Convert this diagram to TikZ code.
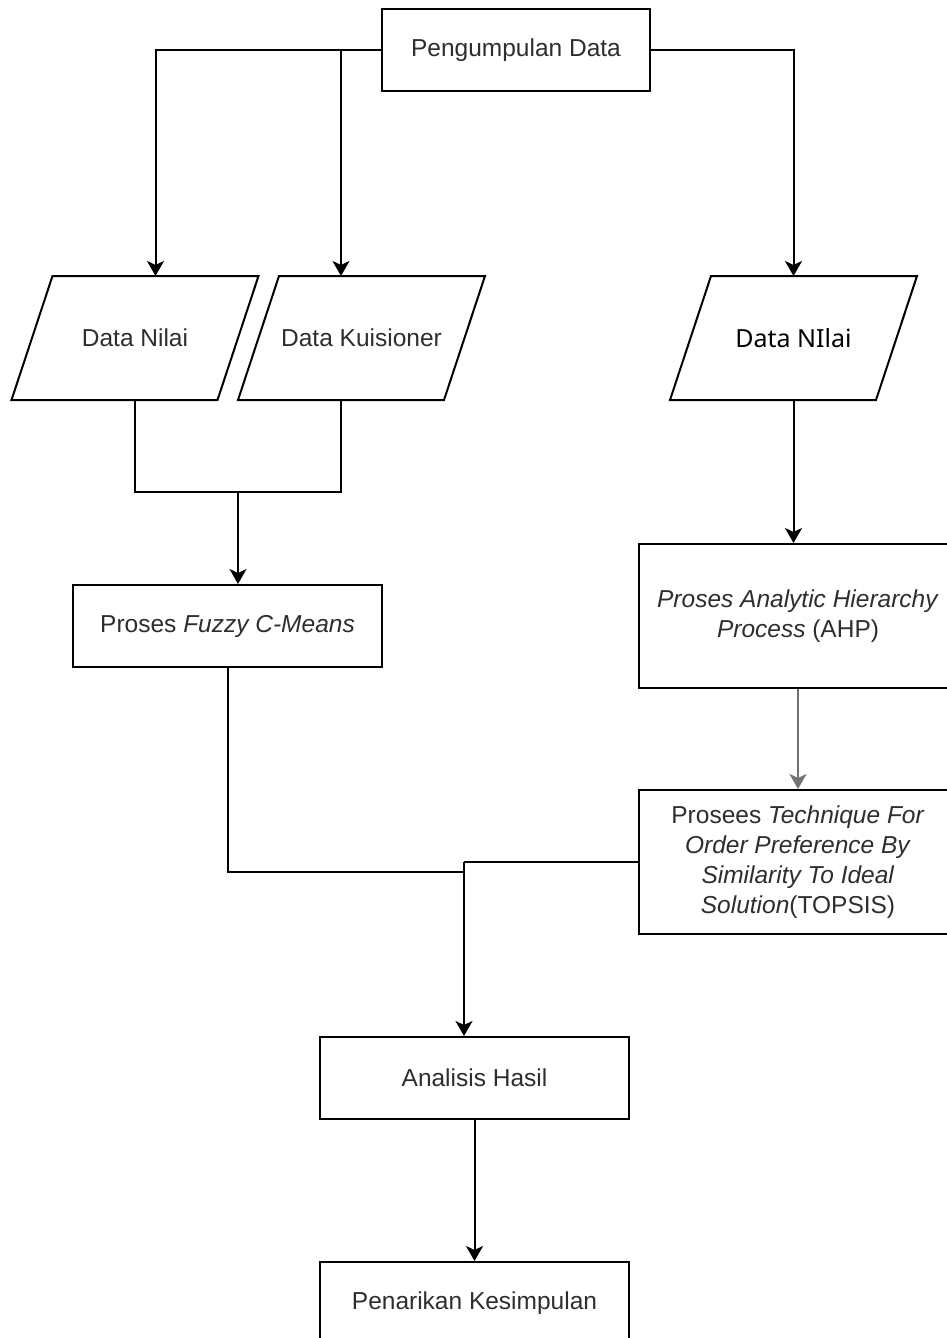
\documentclass[tikz,border=0pt]{standalone}
\usepackage{fontspec}
\setmainfont{Liberation Sans}
\newfontfamily\notosans{Noto Sans}
\usetikzlibrary{arrows.meta,calc}

\tikzset{
  txt/.style={text=black!82, font=\fontsize{24.5}{30}\selectfont, align=center},
  procbox/.style={draw=black, line width=2pt, fill=white, rectangle, txt,
                  inner sep=0pt},
  iotext/.style={txt, inner sep=0pt},
  link/.style={draw=black, line width=2pt},
  flow/.style={link, -{Stealth[length=15pt,width=17pt,inset=4pt]}},
}

% parallelogram (data input) around a text node: edge 206, height 124, slant 41
\newcommand{\ioshape}[1]{%
  \draw[link] ($(#1.center)+(-123.5,62)$) -- ($(#1.center)+(82.5,62)$)
    -- ($(#1.center)+(123.5,-62)$) -- ($(#1.center)+(-82.5,-62)$) -- cycle;
  \coordinate (#1-top) at ($(#1.center)+(20.5,-62)$);
  \coordinate (#1-bot) at ($(#1.center)+(-20.5,62)$);
  \coordinate (#1-mtop) at ($(#1.center)+(0,-62)$);
  \coordinate (#1-mbot) at ($(#1.center)+(0,62)$);
}

\begin{document}
\begin{tikzpicture}[x=1pt, y=-1pt]
  \useasboundingbox (0,0) rectangle (947,1338);
  \clip (0,0) rectangle (947,1338);
  \fill[white] (0,0) rectangle (947,1338);

  % process boxes
  \node[procbox, minimum width=268pt, minimum height=82pt] (pd) at (516,50) {Pengumpulan Data};
  \node[procbox, minimum width=309pt, minimum height=82pt] (fcm) at (227.5,626) {Proses \textit{Fuzzy C-Means}};
  \node[procbox, minimum width=318pt, minimum height=144pt] (ahp) at (798,616)
    {\textit{Proses Analytic Hierarchy}\\\textit{Process} (AHP)};
  \node[procbox, minimum width=318pt, minimum height=144pt] (topsis) at (798,862)
    {Prosees \textit{Technique For}\\\textit{Order Preference By}\\\textit{Similarity To Ideal}\\\textit{Solution}(TOPSIS)};
  \node[procbox, minimum width=309pt, minimum height=82pt] (ana) at (474.5,1078) {Analisis Hasil};
  \node[procbox, minimum width=309pt, minimum height=82pt] (pk) at (474.5,1303) {Penarikan Kesimpulan};

  % data (input) shapes
  \node[iotext] (dn) at (135,338) {Data Nilai};
  \ioshape{dn}
  \node[iotext] (dk) at (361.5,338) {Data Kuisioner};
  \ioshape{dk}
  \node[iotext, font=\notosans\fontsize{25}{30}\selectfont, text=black] (dv) at (793.5,338) {Data NIlai};
  \ioshape{dv}

  % junction points
  \coordinate (j1) at (238,492);
  \coordinate (j2) at (464,862);
  \coordinate (j3) at (464,872);

  % connectors from data collection
  \draw[flow] (pd.west) -| (dn-top);
  \draw[flow] (pd.west -| dk-bot) -- (dk-bot |- dk-top);
  \draw[flow] (pd.east) -| (dv-mtop);

  % left branch: both inputs merge into Fuzzy C-Means
  \draw[link] (dn-mbot) |- (j1) -| (dk-bot);
  \draw[flow] (j1) -- (j1 |- fcm.north);

  % right branch: AHP then TOPSIS
  \draw[flow] (dv-mbot) -- (dv-mbot |- ahp.north);
  \draw[flow, draw=black!55] (ahp.south) -- (topsis.north);

  % merge into result analysis
  \draw[link] (fcm.south) |- (j3);
  \draw[link] (topsis.west) -- (j2);
  \draw[flow] (j2) -- (j2 |- ana.north);
  \draw[flow] (ana.south) -- (pk.north);
\end{tikzpicture}
\end{document}
